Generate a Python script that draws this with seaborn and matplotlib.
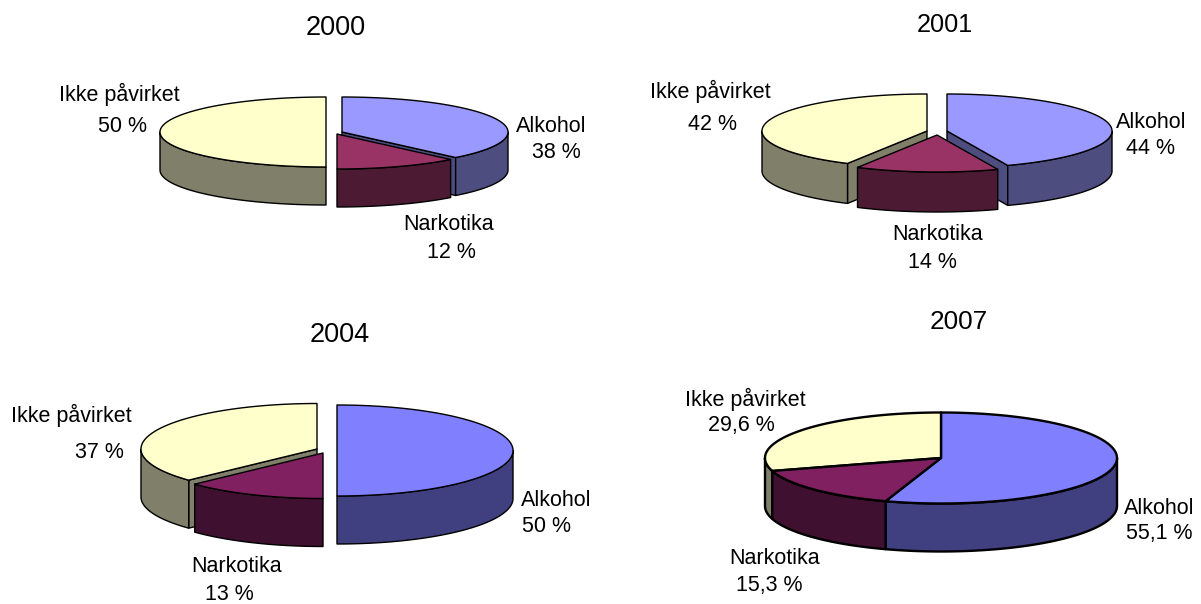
import numpy as np
import matplotlib
matplotlib.use("Agg")
import matplotlib.pyplot as plt
import seaborn as sns

# data
years = ["2000", "2001", "2004", "2007"]
categories = ["Alkohol", "Ikke påvirket", "Narkotika"]
alkohol = [38, 44, 50, 55.1]
narkotika = [12, 14, 13, 15.3]
ikke = [50, 42, 37, 29.6]

# colours (top, side) for the two palettes used in the picture
light = {"Alkohol": ("#9999FF", "#4D4D80"), "Narkotika": ("#993366", "#4D1A33"), "Ikke påvirket": ("#FFFFCC", "#80806A")}
dark = {"Alkohol": ("#8080FF", "#404080"), "Narkotika": ("#802060", "#401030"), "Ikke påvirket": ("#FFFFCC", "#80806A")}

# layout in pixels
layout = {
    "2000": dict(rx=166, ry=35, depth=38, lw=1.0, colors=light, fs=19.5, title=(336, 26),
                 alk=(342, 132), nar=(337, 134), ikk=(326, 132),
                 tAlk=[(551, 124), (556, 150)], tNar=[(449, 222), (451, 250)], tIkk=[(119, 92), (123, 124)]),
    "2001": dict(rx=165, ry=37, depth=40, lw=1.0, colors=light, fs=18.2, title=(945, 23),
                 alk=(947, 131), nar=(937, 135), ikk=(927, 131),
                 tAlk=[(1151, 120), (1150, 146)], tNar=[(938, 232), (932, 260)], tIkk=[(710, 89), (713, 122)]),
    "2004": dict(rx=176, ry=45.5, depth=48, lw=1.0, colors=dark, fs=19.5, title=(340, 333),
                 alk=(337, 450.5), nar=(323, 453), ikk=(317, 449),
                 tAlk=[(556, 499), (546, 525)], tNar=[(237, 565), (229, 592.5)], tIkk=[(71, 413), (99, 451)]),
    "2007": dict(rx=176, ry=45.5, depth=48, lw=1.7, colors=dark, fs=18.8, title=(959, 320),
                 alk=(941, 458), nar=(941, 458), ikk=(941, 458),
                 tAlk=[(1159, 506), (1159, 532)], tNar=[(775, 557), (769, 583)], tIkk=[(745, 397), (741, 423)]),
}


def rim(cx, cy, rx, ry, t):
    t = np.radians(t)
    return cx + rx * np.sin(t), cy - ry * np.cos(t)


def draw_slice(ax, center, t0, t1, cfg, colors, exploded):
    cx, cy = center
    rx, ry, depth, lw = cfg["rx"], cfg["ry"], cfg["depth"], cfg["lw"]
    top, side = colors
    style = dict(edgecolor="black", linewidth=lw, joinstyle="round")

    # cut faces, only when the slice is pulled out and the face looks at the viewer
    if exploded:
        for t, visible in ((t0, np.sin(np.radians(t0)) < -1e-6), (t1, np.sin(np.radians(t1)) > 1e-6)):
            if visible:
                x, y = rim(cx, cy, rx, ry, t)
                ax.fill([cx, x, x, cx], [cy, y, y + depth, cy + depth], facecolor=side, **style)

    # outer wall, front half only
    a, b = max(t0, 90), min(t1, 270)
    if b > a:
        ts = np.linspace(a, b, 80)
        x, y = rim(cx, cy, rx, ry, ts)
        ax.fill(np.r_[x, x[::-1]], np.r_[y, y[::-1] + depth], facecolor=side, **style)

    # top
    ts = np.linspace(t0, t1, 160)
    x, y = rim(cx, cy, rx, ry, ts)
    ax.fill(np.r_[cx, x], np.r_[cy, y], facecolor=top, **style)


def label(ax, pos, txt, size=15.5):
    # 2 px down, matplotlib centres on the full text box
    ax.text(pos[0], pos[1] + 2, txt, ha="center", va="center", fontsize=size, color="black")


def pct(v):
    return str(v).replace(".", ",") + " %"


sns.set_theme(style="white")
plt.rcParams["font.family"] = ["Liberation Sans", "DejaVu Sans"]

fig = plt.figure(figsize=(12.01, 6.04), dpi=100)
ax = fig.add_axes([0, 0, 1, 1])
ax.set_xlim(0, 1201)
ax.set_ylim(604, 0)
ax.axis("off")

for i, year in enumerate(years):
    cfg = layout[year]
    exploded = len({cfg["alk"], cfg["nar"], cfg["ikk"]}) > 1

    # slices run clockwise from 12 o'clock: alkohol, narkotika, ikke
    a_end = alkohol[i] * 3.6
    n_end = a_end + narkotika[i] * 3.6
    draw_slice(ax, cfg["alk"], 0, a_end, cfg, cfg["colors"]["Alkohol"], exploded)
    draw_slice(ax, cfg["ikk"], n_end, 360, cfg, cfg["colors"]["Ikke påvirket"], exploded)
    draw_slice(ax, cfg["nar"], a_end, n_end, cfg, cfg["colors"]["Narkotika"], exploded)

    label(ax, cfg["title"], year, cfg["fs"])
    label(ax, cfg["tAlk"][0], categories[0])
    label(ax, cfg["tAlk"][1], pct(alkohol[i]))
    label(ax, cfg["tIkk"][0], categories[1])
    label(ax, cfg["tIkk"][1], pct(ikke[i]))
    label(ax, cfg["tNar"][0], categories[2])
    label(ax, cfg["tNar"][1], pct(narkotika[i]))

plt.savefig("out.png", dpi=100)
